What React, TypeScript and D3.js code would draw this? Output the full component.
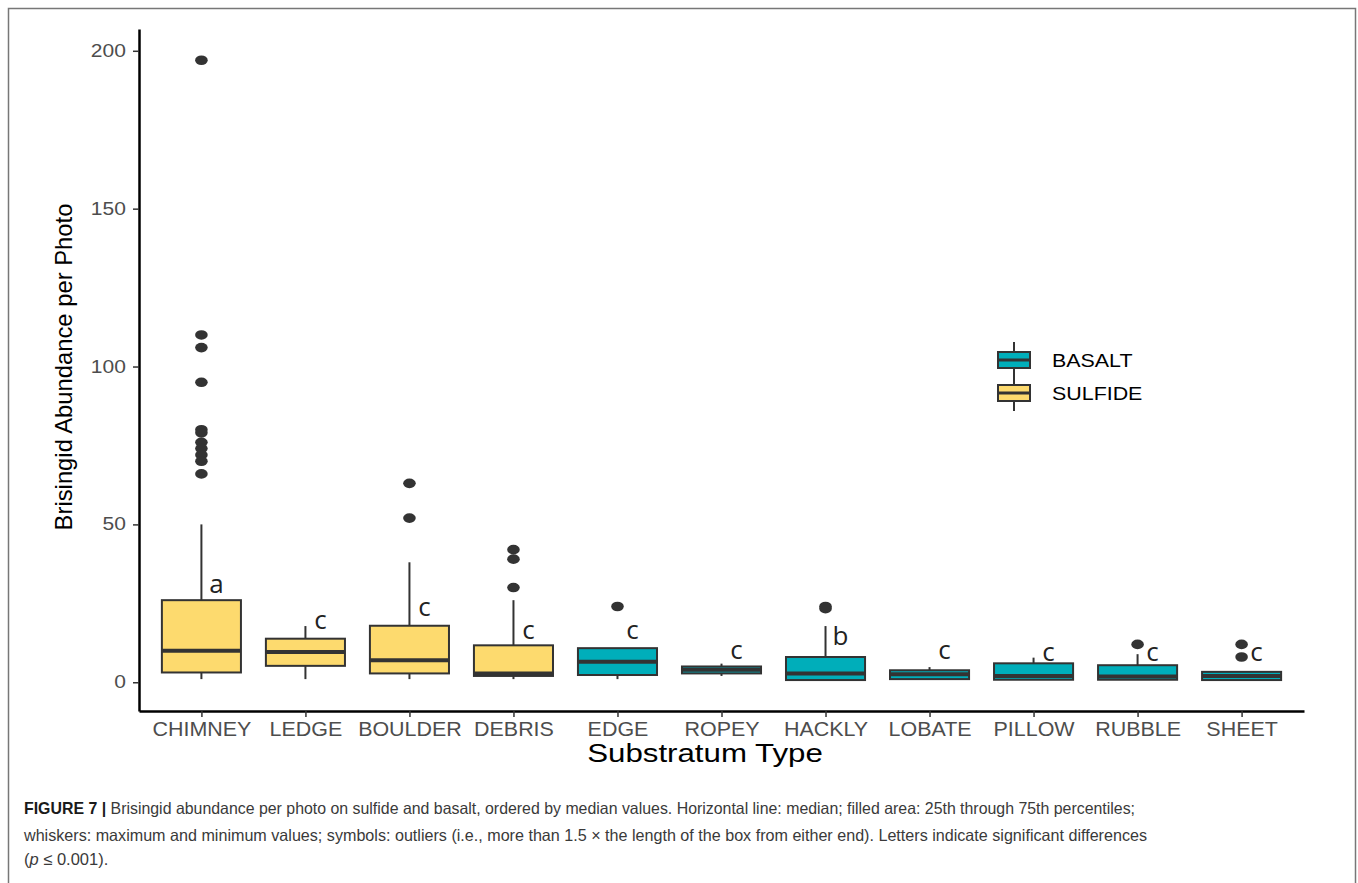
import { useEffect, useRef } from 'react';
import * as d3 from 'd3';

// substratum categories, ordered by median
const categories = ['CHIMNEY', 'LEDGE', 'BOULDER', 'DEBRIS', 'EDGE', 'ROPEY', 'HACKLY', 'LOBATE', 'PILLOW', 'RUBBLE', 'SHEET'];
const substrate = ['SULFIDE', 'SULFIDE', 'SULFIDE', 'SULFIDE', 'BASALT', 'BASALT', 'BASALT', 'BASALT', 'BASALT', 'BASALT', 'BASALT'];

// box statistics
const whiskerLow = [1, 1, 1, 1, 1, 2, 0.7, 1, 0.8, 0.8, 0.7];
const q1 = [3.1, 5.2, 2.8, 2, 2.3, 2.8, 0.7, 1, 0.8, 0.8, 0.7];
const median = [10, 9.6, 7, 2.8, 6.5, 4, 2.8, 2.5, 2, 1.8, 2];
const q3 = [26, 13.8, 17.9, 11.7, 10.8, 5, 8, 3.8, 6, 5.4, 3.3];
const whiskerHigh = [50, 17.8, 38, 26, 10.8, 5.9, 17.8, 4.8, 7.8, 8.9, 3.3];
const outliers = [
  [197, 110, 106, 95, 80, 79, 76, 74, 72, 70, 66],
  [],
  [63, 52],
  [42, 39, 30],
  [24],
  [],
  [23.3, 24],
  [],
  [],
  [12],
  [12, 8],
];

// significance letters and the height they sit at
const letters = ['a', 'c', 'c', 'c', 'c', 'c', 'b', 'c', 'c', 'c', 'c'];
const letterY = [30.5, 19, 23.1, 15.8, 15.8, 9.5, 13.9, 9.5, 8.9, 8.9, 8.9];

const yTicks = [0, 50, 100, 150, 200];
const legendKeys = ['BASALT', 'SULFIDE'];

const captionLines = [
  'Brisingid abundance per photo on sulfide and basalt, ordered by median values. Horizontal line: median; filled area: 25th through 75th percentiles;',
  'whiskers: maximum and minimum values; symbols: outliers (i.e., more than 1.5 \u00d7 the length of the box from either end). Letters indicate significant differences',
];

const colors: Record<string, string> = { SULFIDE: '#FDDA6E', BASALT: '#00AEBA' };

const W = 1358;
const H = 883;
const FONT = '"Liberation Sans", Arial, Helvetica, sans-serif';
const INK = '#333333';

export default function App() {
  const svgRef = useRef<SVGSVGElement>(null);

  useEffect(() => {
    if (!svgRef.current) return;
    const svg = d3.select(svgRef.current);
    svg.selectAll('*').remove();

    svg.append('rect').attr('width', W).attr('height', H).attr('fill', '#fff');

    // figure frame
    svg.append('rect')
      .attr('x', 8.5).attr('y', 8.5)
      .attr('width', 1347).attr('height', 900)
      .attr('fill', 'none').attr('stroke', '#777').attr('stroke-width', 1.5);

    const x = d3.scalePoint<string>().domain(categories).range([139, 1304]).padding(0.6);
    const y = d3.scaleLinear().domain([-9.1, 206.9]).range([711, 29]);
    const bw = x.step() * 0.76;

    const g = svg.append('g');

    // boxes
    categories.forEach((c, i) => {
      const cx = x(c) as number;
      const bg = g.append('g');
      bg.append('line')
        .attr('x1', cx).attr('x2', cx)
        .attr('y1', y(q3[i])).attr('y2', y(whiskerHigh[i]))
        .attr('stroke', INK).attr('stroke-width', 2);
      bg.append('line')
        .attr('x1', cx).attr('x2', cx)
        .attr('y1', y(q1[i])).attr('y2', y(whiskerLow[i]))
        .attr('stroke', INK).attr('stroke-width', 2);
      bg.append('rect')
        .attr('x', cx - bw / 2).attr('y', y(q3[i]))
        .attr('width', bw).attr('height', Math.max(0, y(q1[i]) - y(q3[i])))
        .attr('fill', colors[substrate[i]])
        .attr('stroke', INK).attr('stroke-width', 2);
      bg.append('line')
        .attr('x1', cx - bw / 2).attr('x2', cx + bw / 2)
        .attr('y1', y(median[i])).attr('y2', y(median[i]))
        .attr('stroke', INK).attr('stroke-width', 4);
      bg.selectAll('ellipse')
        .data(outliers[i])
        .enter()
        .append('ellipse')
        .attr('cx', cx).attr('cy', d => y(d))
        .attr('rx', 6.3).attr('ry', 4.8)
        .attr('fill', INK);
      bg.append('text')
        .attr('x', cx + 15).attr('y', y(letterY[i]) + 7)
        .attr('text-anchor', 'middle')
        .attr('font-family', '"Open Sans", sans-serif')
        .attr('font-size', 26)
        .attr('fill', '#222')
        .text(letters[i]);
    });

    // y axis
    const yAxis = svg.append('g')
      .attr('transform', 'translate(139,0)')
      .call(d3.axisLeft(y).tickValues(yTicks).tickSize(6).tickSizeOuter(0).tickPadding(5));
    yAxis.select('.domain').attr('stroke', '#000').attr('stroke-width', 2.5);
    yAxis.selectAll('.tick line').attr('stroke', INK).attr('stroke-width', 1.5);
    yAxis.selectAll('.tick text')
      .attr('font-family', FONT).attr('font-size', 17.5).attr('fill', '#4d4d4d')
      .attr('transform', 'scale(1.2,1)');

    // x axis
    const xAxis = svg.append('g')
      .attr('transform', 'translate(0,711)')
      .call(d3.axisBottom(x).tickSize(6).tickSizeOuter(0).tickPadding(5));
    xAxis.select('.domain').attr('stroke', '#000').attr('stroke-width', 2.5);
    xAxis.selectAll('.tick line').attr('stroke', INK).attr('stroke-width', 1.5);
    xAxis.selectAll('.tick text')
      .attr('font-family', FONT).attr('font-size', 19.5).attr('fill', '#4d4d4d')
      .attr('transform', 'scale(1.1,1)');

    // axis titles
    svg.append('text')
      .attr('transform', 'translate(705,762) scale(1.25,1)')
      .attr('text-anchor', 'middle')
      .attr('font-family', FONT).attr('font-size', 25).attr('fill', '#000')
      .text('Substratum Type');
    svg.append('text')
      .attr('transform', 'translate(72,367) rotate(-90)')
      .attr('text-anchor', 'middle')
      .attr('font-family', FONT).attr('font-size', 23.8).attr('fill', '#000')
      .text('Brisingid Abundance per Photo');

    // legend
    const legend = svg.append('g').attr('transform', 'translate(998,352)');
    legendKeys.forEach((k, i) => {
      const ly = i * 33;
      const lg = legend.append('g').attr('transform', `translate(0,${ly})`);
      lg.append('line').attr('x1', 16).attr('x2', 16).attr('y1', -10).attr('y2', 26)
        .attr('stroke', INK).attr('stroke-width', 2);
      lg.append('rect').attr('x', 0).attr('y', 0).attr('width', 32).attr('height', 16)
        .attr('fill', colors[k]).attr('stroke', INK).attr('stroke-width', 2);
      lg.append('line').attr('x1', 0).attr('x2', 32).attr('y1', 8).attr('y2', 8)
        .attr('stroke', INK).attr('stroke-width', 3);
      lg.append('text')
        .attr('transform', 'translate(54,14.5) scale(1.19,1)')
        .attr('font-family', FONT).attr('font-size', 18).attr('fill', '#000')
        .text(k);
    });

    // caption
    const cap = svg.append('g').attr('font-family', FONT).attr('font-size', 16.5);
    const l1 = cap.append('text').attr('x', 24).attr('y', 814)
      .attr('textLength', 1111).attr('lengthAdjust', 'spacingAndGlyphs');
    l1.append('tspan').attr('font-weight', 'bold').attr('fill', '#1a1a1a').text('FIGURE 7 | ');
    l1.append('tspan').attr('fill', '#3a3a3a').text(captionLines[0]);
    cap.append('text').attr('x', 24).attr('y', 841)
      .attr('textLength', 1123).attr('lengthAdjust', 'spacingAndGlyphs')
      .attr('fill', '#3a3a3a').text(captionLines[1]);
    const l3 = cap.append('text').attr('x', 24).attr('y', 865).attr('fill', '#3a3a3a');
    l3.append('tspan').text('(');
    l3.append('tspan').attr('font-style', 'italic').text('p');
    l3.append('tspan').text(' \u2264 0.001).');
  }, []);

  return (
    <svg
      ref={svgRef}
      width={W}
      height={H}
      style={{ position: 'absolute', left: 0, top: 0, display: 'block' }}
      role="img"
      aria-label="Box plot of Brisingid abundance per photo by substratum type"
    />
  );
}
